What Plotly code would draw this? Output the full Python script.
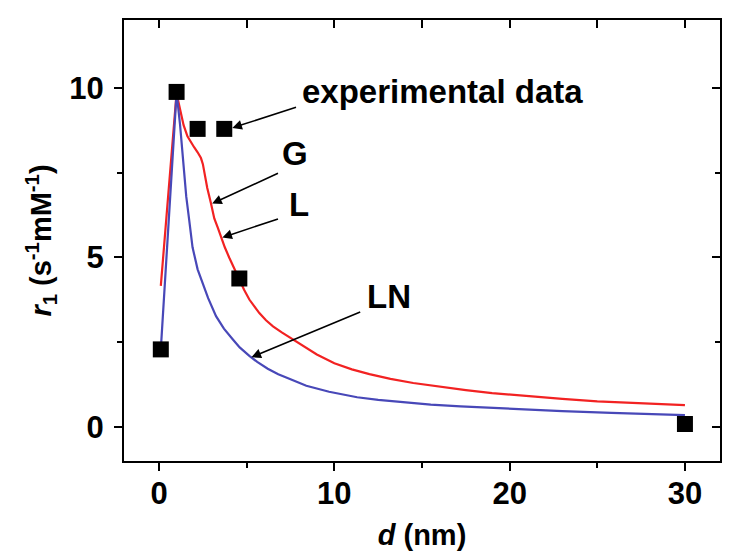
import plotly.graph_objects as go

# Experimental data
exp_d = [0.1, 1.0, 2.2, 3.72, 4.58, 30.0]
exp_r1 = [2.29, 9.88, 8.79, 8.79, 4.38, 0.09]

# Red curve (G / L model)
red_d = [0.1, 1.0, 1.1, 1.24, 1.4, 1.62, 1.8, 2.0, 2.2, 2.39, 2.5, 2.6, 2.75, 2.96, 3.15, 3.35,
         3.53, 3.75, 4.0, 4.3, 4.58, 4.85, 5.15, 5.45, 5.72, 6.1, 6.5, 7.0, 7.6, 8.2, 9.0, 10.0,
         11.0, 12.0, 13.2, 14.5, 16.0, 17.5, 19.0, 21.0, 23.0, 25.0, 27.5, 30.0]
red_r1 = [4.16, 9.85, 9.6, 9.25, 8.9, 8.57, 8.4, 8.25, 8.1, 7.93, 7.75, 7.45, 7.05, 6.6, 6.15, 5.88,
          5.6, 5.3, 5.0, 4.65, 4.35, 4.05, 3.76, 3.55, 3.36, 3.15, 2.97, 2.79, 2.59, 2.39, 2.14, 1.88,
          1.7, 1.56, 1.42, 1.3, 1.19, 1.09, 1.0, 0.91, 0.83, 0.76, 0.7, 0.65]

# Blue curve (LN model)
blue_d = [0.1, 1.0, 1.2, 1.4, 1.55, 1.72, 1.91, 2.2, 2.48, 2.8, 3.25, 3.7, 4.2, 4.6, 5.15, 5.6,
          6.2, 6.8, 7.5, 8.4, 9.7, 11.3, 12.5, 14.1, 15.5, 17.2, 19.0, 21.0, 23.0, 25.8, 28.0, 30.0]
blue_r1 = [2.29, 9.85, 8.9, 7.6, 6.8, 6.1, 5.3, 4.65, 4.26, 3.8, 3.27, 2.9, 2.59, 2.35, 2.1, 1.92,
           1.72, 1.56, 1.41, 1.22, 1.04, 0.88, 0.8, 0.72, 0.66, 0.61, 0.56, 0.51, 0.47, 0.42, 0.38, 0.35]

# Labels: (text, text_x, text_y, arrow_tail_x, arrow_tail_y, arrow_head_x, arrow_head_y)
labels = [
    ("experimental data", 16.17, 9.88, 7.9, 9.44, 4.18, 8.82),
    ("G", 7.78, 8.06, 6.87, 7.5, 3.03, 6.59),
    ("L", 7.96, 6.56, 6.87, 6.15, 3.61, 5.59),
    ("LN", 13.1, 3.85, 11.56, 3.41, 5.27, 2.06),
]

FONT = "Liberation Sans, Arial, sans-serif"
RED = "#f22222"
BLUE = "#4848b8"

fig = go.Figure()
fig.add_trace(go.Scatter(x=red_d, y=red_r1, mode="lines",
                         line=dict(color=RED, width=2.2), showlegend=False))
fig.add_trace(go.Scatter(x=blue_d, y=blue_r1, mode="lines",
                         line=dict(color=BLUE, width=2.2), showlegend=False))
fig.add_trace(go.Scatter(x=exp_d, y=exp_r1, mode="markers",
                         marker=dict(symbol="square", size=16, color="black"),
                         showlegend=False))
# mirror axes (inward ticks on top/right)
fig.add_trace(go.Scatter(x=[], y=[], xaxis="x2", yaxis="y2", showlegend=False))

annotations = []
for text, tx, ty, ax, ay, hx, hy in labels:
    annotations.append(dict(x=tx, y=ty, xref="x", yref="y", text=text, showarrow=False,
                            font=dict(family=FONT, size=33, color="black", weight="bold"),
                            xanchor="center", yanchor="middle"))
    annotations.append(dict(x=hx, y=hy, ax=ax, ay=ay, xref="x", yref="y",
                            axref="x", ayref="y", text="", showarrow=True,
                            arrowhead=2, arrowsize=1.2, arrowwidth=1.6, arrowcolor="black"))

XR = [-2, 32]
YR = [-1, 12]
axis_common = dict(showgrid=False, zeroline=False, showline=True, linewidth=2,
                   linecolor="black", tickwidth=2, tickcolor="black", automargin=False)

fig.update_layout(
    width=736, height=560,
    margin=dict(l=116, r=24, t=12, b=107, autoexpand=False),
    paper_bgcolor="white", plot_bgcolor="white",
    font=dict(family=FONT, color="black", weight="bold"),
    xaxis=dict(range=XR, tickvals=[0, 10, 20, 30], ticktext=["0", "10", "20", "30"],
               ticks="outside", ticklen=8, ticklabelstandoff=-4,
               minor=dict(tickvals=[5, 15, 25], ticks="outside", ticklen=5, tickwidth=2, tickcolor="black"),
               tickfont=dict(family=FONT, size=31, weight="bold"),
               title=dict(text="<i>d</i> (nm)", font=dict(family=FONT, size=29, weight="bold"), standoff=14),
               **axis_common),
    yaxis=dict(range=YR, tickvals=[0, 5, 10], ticktext=["0", "5", "10"],
               ticks="outside", ticklen=8, ticklabelstandoff=4,
               minor=dict(tickvals=[2.5, 7.5], ticks="outside", ticklen=5, tickwidth=2, tickcolor="black"),
               tickfont=dict(family=FONT, size=31, weight="bold"),
               title=dict(text="<i>r</i><sub>1</sub> (s<sup>-1</sup>mM<sup>-1</sup>)",
                          font=dict(family=FONT, size=29, weight="bold"), standoff=9),
               **axis_common),
    xaxis2=dict(range=XR, overlaying="x", side="top", anchor="y2", tickvals=[0, 10, 20, 30],
                ticks="inside", ticklen=8, showticklabels=False,
                minor=dict(tickvals=[5, 15, 25], ticks="inside", ticklen=8, tickwidth=2, tickcolor="black"),
                **axis_common),
    yaxis2=dict(range=YR, overlaying="y", side="right", anchor="x2", tickvals=[0, 5, 10],
                ticks="inside", ticklen=8, showticklabels=False,
                minor=dict(tickvals=[2.5, 7.5], ticks="inside", ticklen=5, tickwidth=2, tickcolor="black"),
                **axis_common),
    annotations=annotations,
)

fig.write_html("out.html")
